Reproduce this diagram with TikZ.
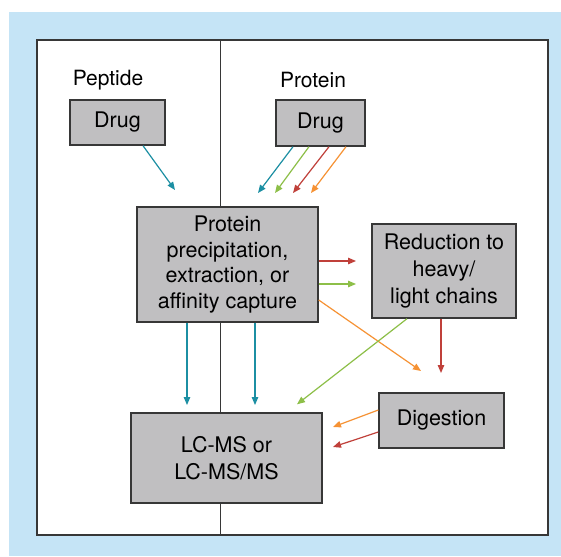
\documentclass[tikz,border=0pt]{standalone}
\usepackage{fontspec}
\setmainfont{TeX Gyre Heros}
\usetikzlibrary{
    positioning,
    arrows.meta
}
\definecolor{bgblue}{RGB}{197,228,246}
\definecolor{boxgray}{RGB}{192,191,193}
\definecolor{edgegray}{RGB}{55,55,55}
\definecolor{arrteal}{RGB}{28,143,163}
\definecolor{arrgreen}{RGB}{141,191,72}
\definecolor{arrred}{RGB}{192,64,58}
\definecolor{arrorange}{RGB}{246,146,52}
\tikzset{
    >={Triangle[length=8pt,width=6.5pt]},
    stagebox/.style={
        draw=edgegray,
        fill=boxgray,
        line width=1.4pt,
        align=center,
        inner sep=2pt,
        font=\fontsize{21.5}{25.5}\selectfont
    },
    flow/.style={
        ->,
        line width=1.2pt
    }
}

\begin{document}
\begin{tikzpicture}[
    x=1pt,
    y=-1pt
]
    \useasboundingbox (0,0) rectangle (561,556);

    % Fondo y marco
    \fill[bgblue] (9,12) rectangle (561,556);
    \draw[edgegray, fill=white, line width=1.2pt] (37,40) rectangle (548,535);
    \draw[edgegray, line width=1pt] (220,40) -- (220,535);

    % Etiquetas
    \node[font=\fontsize{21}{24}\selectfont] (lpep) at (108,80) {Peptide};
    \node[font=\fontsize{21}{24}\selectfont] (lpro) at (313,80) {Protein};

    % Cajas
    \node[stagebox, minimum width=95pt,  minimum height=45pt]
        (pdrug) at (117.5,122.5) {Drug};
    \node[stagebox, minimum width=89pt,  minimum height=46pt]
        (rdrug) at (320.5,123)   {Drug};
    \node[stagebox, minimum width=181pt, minimum height=115pt]
        (prep)  at (227.5,264.5)
        {Protein\\precipitation,\\extraction, or\\affinity capture};
    \node[stagebox, minimum width=144pt, minimum height=94pt,
          font=\fontsize{21.5}{27}\selectfont]
        (reduc) at (444,271)     {Reduction to\\heavy/\\light chains};
    \node[stagebox, minimum width=125pt, minimum height=55pt]
        (dig)   at (441.5,420.5) {Digestion};
    \node[stagebox, minimum width=191pt, minimum height=90pt,
          font=\fontsize{21.5}{27}\selectfont]
        (lcms)  at (226.5,458)   {LC-MS or\\LC-MS/MS};

    % Puntas libres
    \coordinate (e1) at (175,190);
    \coordinate (e2) at (258,193);
    \coordinate (e3) at (275,193);
    \coordinate (e4) at (293,193);
    \coordinate (e5) at (311,193);
    \coordinate (e6) at (356,261);
    \coordinate (e7) at (356,284);
    \coordinate (e8) at (421,371);
    \coordinate (e9) at (441,373);
    \coordinate (e10) at (333,427);
    \coordinate (e11) at (333,447);

    % Flechas
    \draw[flow, arrteal]   ([xshift=25.5pt]pdrug.south) -- (e1);
    \draw[flow, arrteal]   ([xshift=-27.5pt]rdrug.south) -- (e2);
    \draw[flow, arrgreen]  ([xshift=-11.5pt]rdrug.south) -- (e3);
    \draw[flow, arrred]    ([xshift=8.5pt]rdrug.south) -- (e4);
    \draw[flow, arrorange] ([xshift=25.5pt]rdrug.south) -- (e5);

    \draw[flow, arrred]    ([yshift=3.5pt]prep.east) -- (e6);
    \draw[flow, arrgreen]  ([yshift=-19.5pt]prep.east) -- (e7);
    \draw[flow, arrorange] ([yshift=-35.5pt]prep.east) -- (e8);

    \draw[flow, arrteal]   ([xshift=-40.5pt]prep.south)
        -- ([xshift=-39.5pt]lcms.north |- 0,405);
    \draw[flow, arrteal]   ([xshift=27.5pt]prep.south)
        -- ([xshift=28.5pt]lcms.north |- 0,405);

    \draw[flow, arrgreen]  ([xshift=-37pt]reduc.south) -- ([xshift=70.5pt,yshift=8pt]lcms.north);
    \draw[flow, arrred]    ([xshift=-3pt]reduc.south) -- (e9);

    \draw[flow, arrorange] ([yshift=10.5pt]dig.west) -- (e10);
    \draw[flow, arrred]    ([yshift=-11.5pt]dig.west) -- (e11);

\end{tikzpicture}
\end{document}
